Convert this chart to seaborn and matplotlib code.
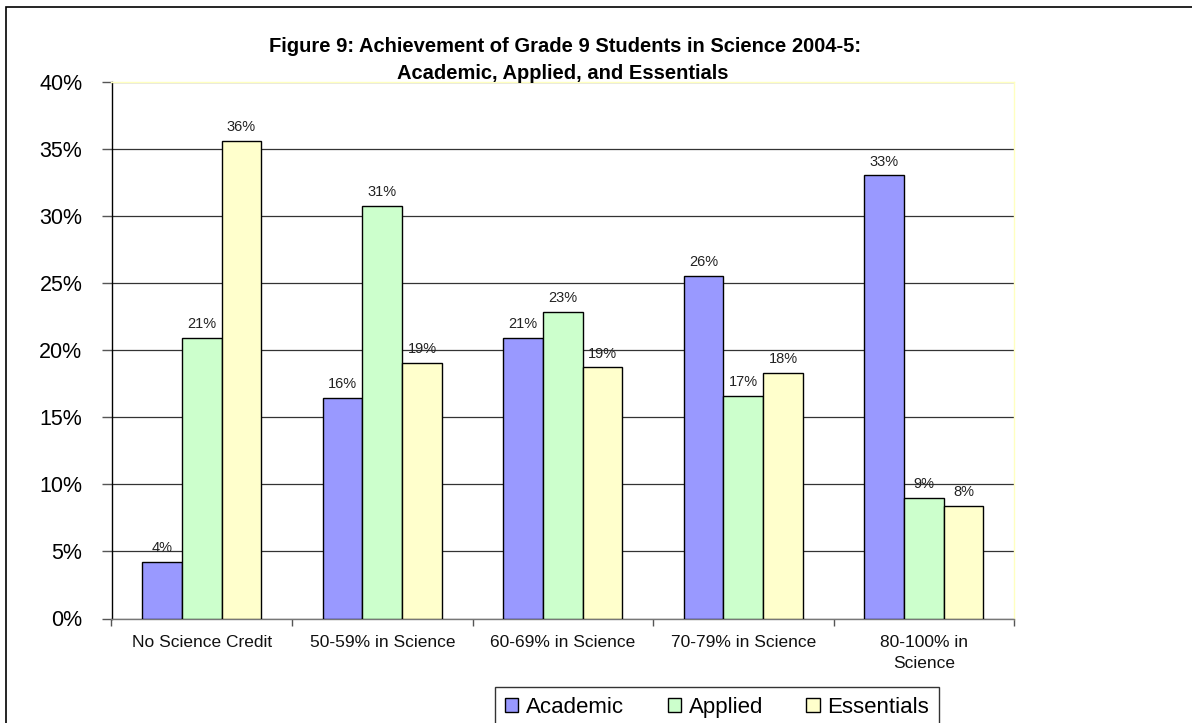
import matplotlib
matplotlib.use("Agg")
import matplotlib.pyplot as plt
from matplotlib.patches import Rectangle
from matplotlib.ticker import FixedLocator, PercentFormatter
import pandas as pd
import seaborn as sns

# Data (percent of students)
categories = [
    "No Science Credit",
    "50-59% in Science",
    "60-69% in Science",
    "70-79% in Science",
    "80-100% in\nScience",
]
tracks = ["Academic", "Applied", "Essentials"]
academic = [4.2, 16.4, 20.9, 25.5, 33.0]
applied = [20.9, 30.7, 22.8, 16.6, 9.0]
essentials = [35.6, 19.0, 18.7, 18.3, 8.4]
colors = ["#9999FF", "#CCFFCC", "#FFFFCC"]
title_lines = [
    "Figure 9: Achievement of Grade 9 Students in Science 2004-5:",
    "Academic, Applied, and Essentials",
]

df = pd.DataFrame({
    "category": categories * 3,
    "track": [t for t in tracks for _ in categories],
    "pct": academic + applied + essentials,
})

sns.set_theme(style="white")
plt.rcParams["font.family"] = ["Liberation Sans", "DejaVu Sans"]
plt.rcParams["text.color"] = "black"

W, H = 1192, 723
fig = plt.figure(figsize=(W / 100, H / 100), dpi=100)
ax = fig.add_axes([111.5 / W, 1 - 618.5 / H, (1014 - 111.5) / W, (618.5 - 81.5) / H])

sns.barplot(
    data=df, x="category", y="pct", hue="track", order=categories,
    hue_order=tracks, palette=colors, saturation=1, width=0.66,
    edgecolor="black", linewidth=1, ax=ax, legend=False, zorder=3,
)

# value labels above bars
for cont in ax.containers:
    ax.bar_label(cont, fmt="{:.0f}%", padding=5, fontsize=10.5, color="#222222")

# axes styling
ax.set_ylim(0, 40)
ax.set_xlim(-0.5, len(categories) - 0.5)
ax.set_yticks(range(0, 41, 5))
ax.yaxis.set_major_formatter(PercentFormatter(decimals=0))
ax.grid(axis="y", color="#333333", linewidth=0.9, zorder=0)
ax.set_axisbelow(True)
ax.set_xlabel("")
ax.set_ylabel("")

ax.spines["left"].set_color("black")
ax.spines["bottom"].set_color("#777777")
ax.spines["top"].set_color("#FFFFC0")
ax.spines["right"].set_color("#FFFFC0")
for s in ax.spines.values():
    s.set_linewidth(1)

ax.tick_params(axis="y", which="major", left=True, length=7, width=1,
               color="#555555", pad=14, labelsize=15.5, labelcolor="black")
ax.tick_params(axis="x", which="major", bottom=False, length=0, pad=12,
               labelsize=12.5, labelcolor="#111111")
for lbl in ax.get_xticklabels():
    lbl.set_linespacing(1.45)
ax.xaxis.set_minor_locator(FixedLocator([i - 0.5 for i in range(len(categories) + 1)]))
ax.tick_params(axis="x", which="minor", bottom=True, length=5, width=1,
               color="#555555")

# title (two centred bold lines)
fig.text(0.474, 1 - 52 / H, title_lines[0], ha="center", va="baseline",
         fontsize=14.5, fontweight="bold", color="black")
fig.text(0.472, 1 - 79 / H, title_lines[1], ha="center", va="baseline",
         fontsize=14.5, fontweight="bold", color="black")

# legend at the bottom
handles = [Rectangle((0, 0), 1, 1, facecolor=c, edgecolor="black", linewidth=1)
           for c in colors]
leg = fig.legend(
    handles, tracks, loc="upper left", bbox_to_anchor=(495 / W, 1 - 687 / H),
    ncol=3, frameon=True, fancybox=False, fontsize=16, handlelength=0.6,
    handleheight=0.6, handletextpad=0.35, columnspacing=1.95,
    borderpad=0.45, borderaxespad=0,
)
leg.get_frame().set_edgecolor("black")
leg.get_frame().set_linewidth(1)
for t in leg.get_texts():
    t.set_color("black")

# outer chart border
fig.patches.append(Rectangle((6 / W, -0.05), 1.2, 1 - 7 / H + 0.05,
                             transform=fig.transFigure, fill=False,
                             edgecolor="black", linewidth=1.2))

fig.savefig("out.png", dpi=100)
